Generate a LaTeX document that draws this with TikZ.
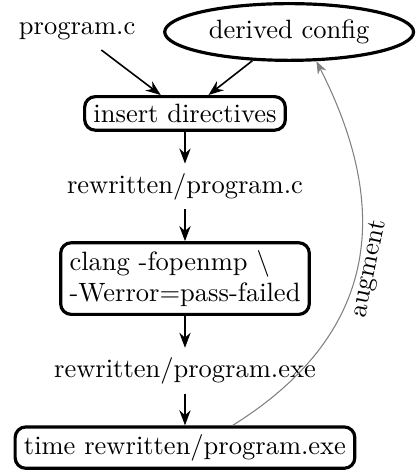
\documentclass[tikz,border=0pt]{standalone}
\usetikzlibrary{positioning}
\usetikzlibrary{shapes.geometric}
\usetikzlibrary{arrows.meta}

\begin{document}
\begin{tikzpicture}[>=Stealth, semithick, node distance=12pt,
	stage/.style={draw, very thick, rounded corners, inner ysep=2.8pt},
	config/.style={ellipse, draw, very thick, inner sep=2.5pt, minimum width=93.9pt, minimum height=21.4pt}]
	\useasboundingbox (-69.8pt,42.8pt) rectangle (86.8pt,-135.3pt);
	\node [stage] (insert) {insert directives};
	\node [above=17pt of insert, xshift=-40.7pt] (prog) {program.c};
	\node [config, above=12.5pt of insert, xshift=39.3pt] (cfg) {derived config};
	\draw[->] (prog) -- (insert);
	\draw[->] (cfg) -- (insert);

	\node [below=of insert] (rwc) {rewritten/program.c};
	\draw[->] (insert) -- (rwc);
	\node [stage, below=of rwc, align=left] (clang) {clang -fopenmp \textbackslash\\-Werror=pass-failed};
	\draw[->] (rwc) -- (clang);
	\node [below=of clang] (rwexe) {rewritten/program.exe};
	\draw[->] (clang) -- (rwexe);
	\node [stage, below=of rwexe] (time) {time rewritten/program.exe};
	\draw[->] (rwexe) -- (time);

	\draw[->, thin, gray] (time.25) .. controls +(32:64pt) and +(-63:64pt) .. (cfg.-47)
		node [midway, sloped, below, inner sep=0.5pt, black] {augment};
\end{tikzpicture}
\end{document}
